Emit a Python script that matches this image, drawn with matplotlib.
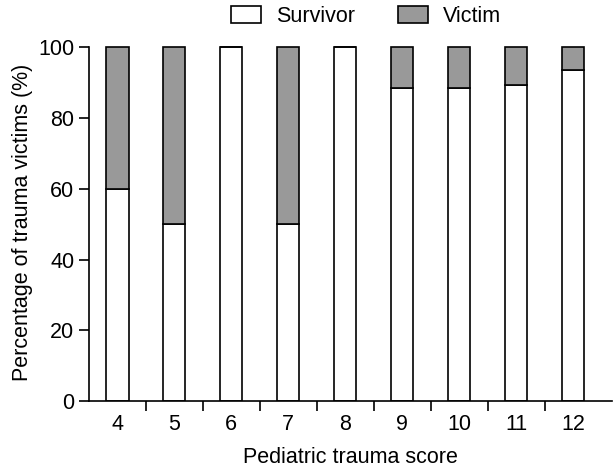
import matplotlib
matplotlib.use("Agg")
import matplotlib.pyplot as plt
import numpy as np

plt.rcParams['font.family'] = ['Liberation Sans', 'DejaVu Sans']

scores = ['4', '5', '6', '7', '8', '9', '10', '11', '12']
survivor = [60, 50, 100, 50, 100, 88.4, 88.4, 89.3, 93.6]
victim = [100 - s for s in survivor]

fig = plt.figure(figsize=(6.13, 4.72), dpi=100)
ax = fig.add_axes([0.146, 0.150, 0.852, 0.758])

x = np.arange(len(scores))
w = 0.39
ax.bar(x, survivor, w, color='white', edgecolor='black', linewidth=1.2, label='Survivor')
ax.bar(x, victim, w, bottom=survivor, color='#999999', edgecolor='black', linewidth=1.2, label='Victim')

ax.set_xlim(-0.49, 8.68)
ax.set_ylim(0, 101)
ax.spines['top'].set_visible(False)
ax.spines['right'].set_visible(False)
ax.spines['left'].set_bounds(0, 100)
ax.spines['left'].set_linewidth(1.2)
ax.spines['bottom'].set_linewidth(1.2)

fs = 15.5
ax.set_yticks([0, 20, 40, 60, 80, 100])
ax.tick_params(axis='y', length=7, width=1.2, labelsize=fs, pad=4)
ax.set_xticks(x)
ax.set_xticklabels(scores)
ax.tick_params(axis='x', which='major', length=0, labelsize=fs, pad=9)
ax.set_xticks(x[:-1] + 0.5, minor=True)
ax.tick_params(axis='x', which='minor', length=7, width=1.2)

ax.set_xlabel('Pediatric trauma score', fontsize=fs, labelpad=9)
ax.set_ylabel('Percentage of trauma victims (%)', fontsize=fs, labelpad=4)

fig.legend(loc='upper center', bbox_to_anchor=(0.597, 1.028), ncol=2, frameon=False,
           fontsize=fs, handlelength=1.4, handleheight=0.8, columnspacing=2.0, handletextpad=0.7)

fig.savefig('out.png', dpi=100)
